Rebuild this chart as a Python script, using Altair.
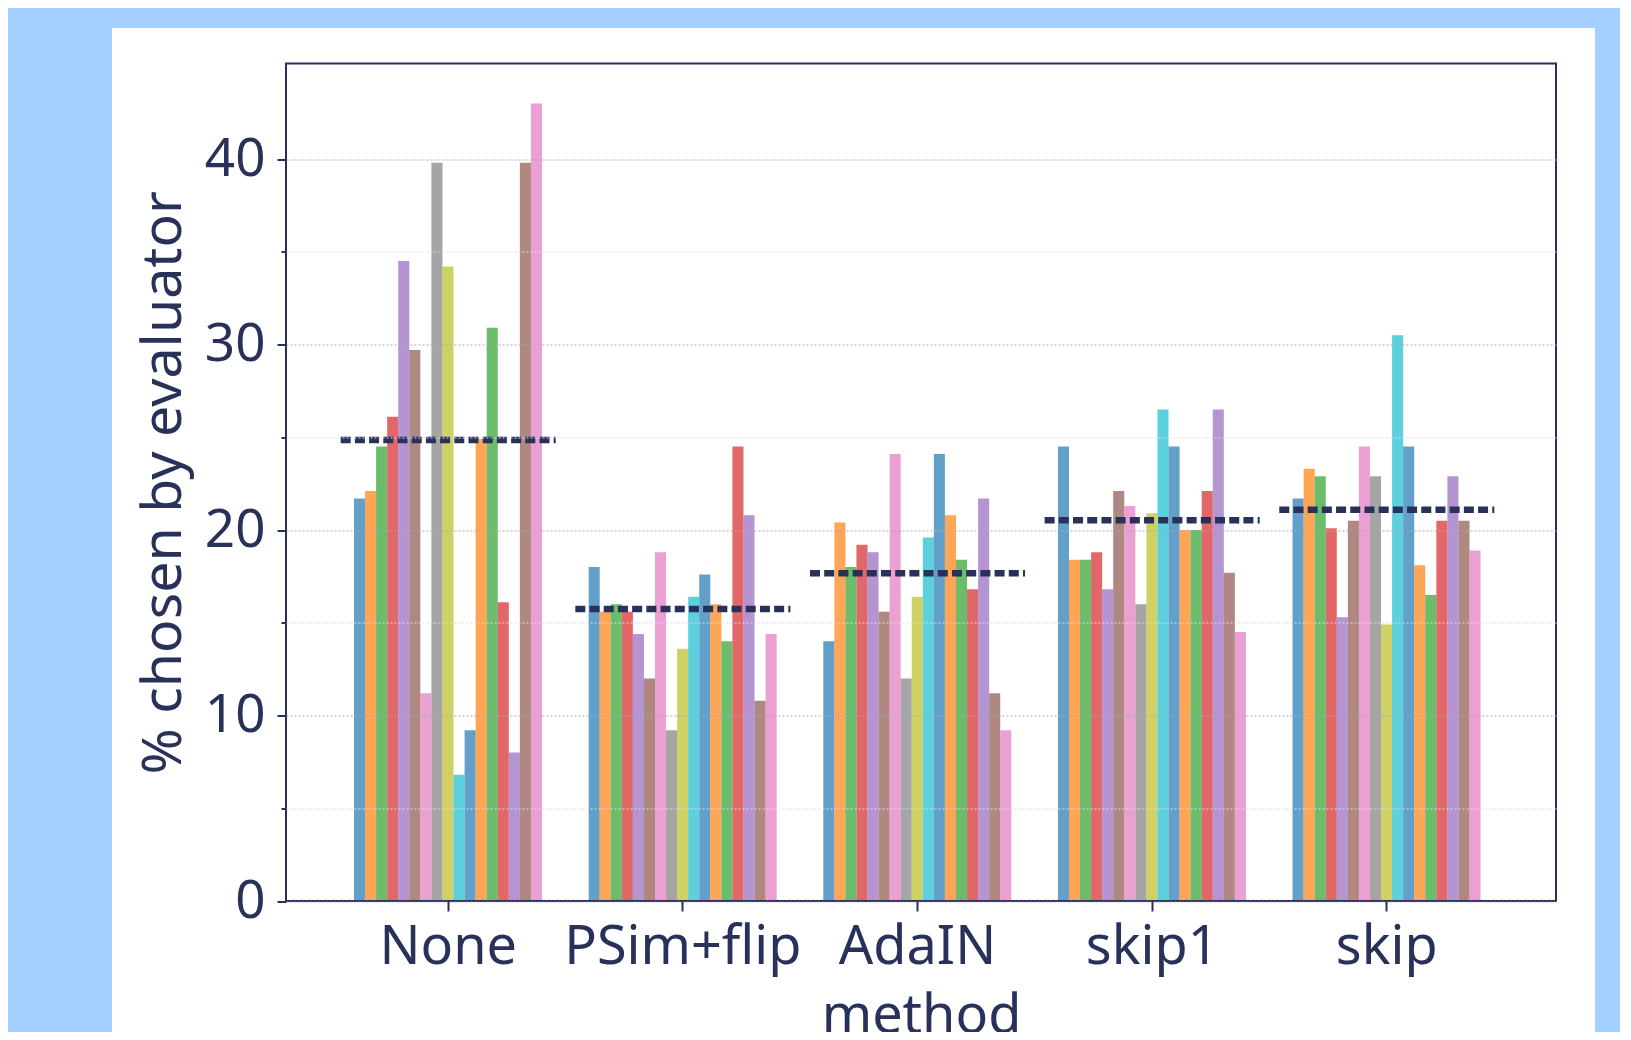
import altair as alt
import pandas as pd

methods = ["None", "PSim+flip", "AdaIN", "skip1", "skip"]
evaluators = [f"e{i}" for i in range(1, 18)]
vals_none = [21.7, 22.1, 24.5, 26.1, 34.5, 29.7, 11.2, 39.8, 34.2, 6.8, 9.2, 24.9, 30.9, 16.1, 8.0, 39.8, 43.0]
vals_psim = [18.0, 15.6, 16.0, 15.6, 14.4, 12.0, 18.8, 9.2, 13.6, 16.4, 17.6, 16.0, 14.0, 24.5, 20.8, 10.8, 14.4]
vals_adain = [14.0, 20.4, 18.0, 19.2, 18.8, 15.6, 24.1, 12.0, 16.4, 19.6, 24.1, 20.8, 18.4, 16.8, 21.7, 11.2, 9.2]
vals_skip1 = [24.5, 18.4, 18.4, 18.8, 16.8, 22.1, 21.3, 16.0, 20.9, 26.5, 24.5, 20.0, 20.0, 22.1, 26.5, 17.7, 14.5]
vals_skip = [21.7, 23.3, 22.9, 20.1, 15.3, 20.5, 24.5, 22.9, 14.9, 30.5, 24.5, 18.1, 16.5, 20.5, 22.9, 20.5, 18.9]
y_ticks = [0, 5, 10, 15, 20, 25, 30, 35, 40]

tab10 = ["#1f77b4", "#ff7f0e", "#2ca02c", "#d62728", "#9467bd",
         "#8c564b", "#e377c2", "#7f7f7f", "#bcbd22", "#17becf"]
palette = [tab10[i % 10] for i in range(len(evaluators))]

navy = "#283159"
bg_blue = "#a3d0fe"
FONT = "Noto Sans"

rows = []
for m, vals in zip(methods, [vals_none, vals_psim, vals_adain, vals_skip1, vals_skip]):
    for e, v in zip(evaluators, vals):
        rows.append({"method": m, "evaluator": e, "value": v})
df = pd.DataFrame(rows)

W = 1270
H = 837.5

xscale = alt.Scale(domain=methods, paddingInner=0.0835, paddingOuter=0.248, align=0.47)
yscale = alt.Scale(domain=[0, 45.15], nice=False, zero=True)

x_axis = alt.Axis(labelAngle=0, tickSize=10, tickWidth=2, tickColor=navy, domain=False,
                  grid=False, title="method", labelPadding=9, titlePadding=15,
                  labelLimit=0, labelFontSize=54, titleFontSize=54, zindex=1)
y_axis = alt.Axis(values=y_ticks,
                  labelExpr="datum.value % 10 === 0 ? datum.label : ''",
                  tickSize=alt.condition("datum.value % 10 === 0", alt.value(9), alt.value(5)),
                  gridColor=alt.condition("datum.value % 10 === 0", alt.value("#a8a8b4"), alt.value("#dcdce4")),
                  gridDash=[2, 2], gridWidth=1,
                  tickWidth=2, tickColor=navy, domain=False, grid=True,
                  title="% chosen by evaluator", labelPadding=12, titlePadding=12,
                  titleFontSize=55.5, labelFontSize=53, zindex=1)

one = pd.DataFrame({"k": [0]})

panel = alt.Chart(one).mark_rect(color="white").encode(
    x=alt.value(-174), x2=alt.value(1309), y=alt.value(-35.5), y2=alt.value(1100)
)

bars = alt.Chart(df).mark_bar(opacity=0.7).encode(
    x=alt.X("method:N", sort=methods, scale=xscale, axis=x_axis),
    xOffset=alt.XOffset("evaluator:N", sort=evaluators,
                        scale=alt.Scale(paddingInner=0, paddingOuter=0, range=[13.3, 201.3])),
    y=alt.Y("value:Q", scale=yscale, axis=y_axis),
    color=alt.Color("evaluator:N", sort=evaluators,
                    scale=alt.Scale(domain=evaluators, range=palette), legend=None),
)

mean_line = alt.Chart(df).mark_rule(color=navy, strokeWidth=6.5, strokeDash=[10, 4.2]).encode(
    x=alt.X("method:N", sort=methods, bandPosition=0),
    x2=alt.X2("method:N", bandPosition=1),
    y=alt.Y("mean(value):Q"),
)

frame = alt.Chart(one).mark_rect(filled=False, color=navy, strokeWidth=2).encode(
    x=alt.value(0), x2=alt.value(W), y=alt.value(0), y2=alt.value(H)
)

chart = alt.layer(panel, bars, mean_line, frame).properties(
    width=W, height=H,
    background=bg_blue,
    padding={"left": 278, "top": 55.5, "right": 64, "bottom": 131},
    autosize=alt.AutoSizeParams(type="none"),
).configure_view(stroke=None).configure_axis(
    labelFont=FONT, titleFont=FONT, labelFontSize=52, titleFontSize=52,
    labelColor=navy, titleColor=navy, titleFontWeight="normal",
)

chart.save("out.html", embed_options={"renderer": "svg", "actions": False})
